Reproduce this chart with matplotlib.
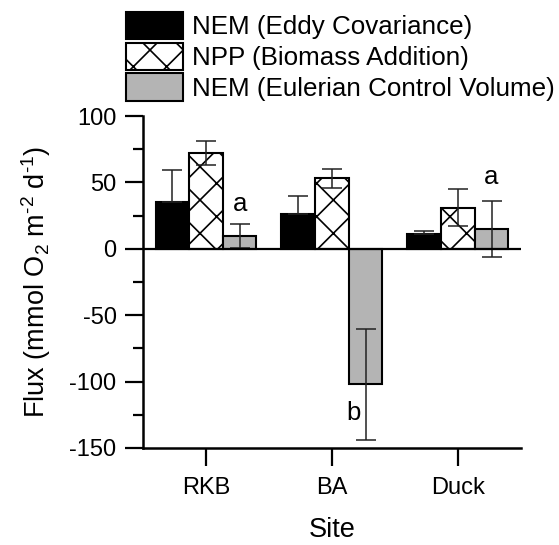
import numpy as np
import matplotlib.pyplot as plt

plt.rcParams['font.family'] = ['Liberation Sans', 'DejaVu Sans']
plt.rcParams['mathtext.default'] = 'regular'
plt.rcParams['axes.unicode_minus'] = False
plt.rcParams['hatch.linewidth'] = 1.2

# data
sites = ['RKB', 'BA', 'Duck']
nem_ec = [35.5, 26, 11.5]
nem_ec_err = [24, 14, 2]
npp = [72, 53, 31]
npp_err = [9, 7, 14]
nem_ecv = [10, -102, 15]
nem_ecv_err = [9, 42, 21]

# significance letters (bar offset from site, y)
letters = ['a', 'b', 'a']
letter_x = [0.267, 0.17, 0.267]
letter_y = [34, -124, 54]

fig = plt.figure(figsize=(5.59, 5.45), dpi=100)
ax = fig.add_axes([0.2558, 0.178, 0.676, 0.609])

x = np.arange(1, len(sites) + 1)
w = 0.267
ekw = dict(ecolor='#222222', elinewidth=1.1, capsize=7, capthick=1.1)

# black bars only show the upper half of the error bar
ax.bar(x - w, nem_ec, w, yerr=[np.zeros(3), nem_ec_err], color='black',
       edgecolor='black', linewidth=1.5, error_kw=ekw,
       label='NEM (Eddy Covariance)')
ax.bar(x, npp, w, yerr=npp_err, color='white', edgecolor='black', hatch='x',
       linewidth=1.5, error_kw=ekw, label='NPP (Biomass Addition)')
ax.bar(x + w, nem_ecv, w, yerr=nem_ecv_err, color='#b4b4b4', edgecolor='black',
       linewidth=1.5, error_kw=ekw, label='NEM (Eulerian Control Volume)')

ax.axhline(0, color='black', linewidth=1.6, zorder=3)

for i in range(len(letters)):
    ax.text(x[i] + letter_x[i], letter_y[i], letters[i], ha='center', va='center',
            fontsize=18.5)

ax.set_xlim(0.5, 3.5)
ax.set_ylim(-150, 100)
ax.set_xticks(x)
ax.set_xticklabels(sites)
ax.set_yticks([-150, -100, -50, 0, 50, 100])
ax.set_yticks(np.arange(-125, 100, 50), minor=True)

for s in ['top', 'right']:
    ax.spines[s].set_visible(False)
for s in ['left', 'bottom']:
    ax.spines[s].set_linewidth(1.8)

ax.tick_params(axis='both', which='major', length=13, width=1.6, labelsize=17, pad=6)
ax.tick_params(axis='x', which='major', pad=8)
ax.tick_params(axis='y', which='minor', length=7.5, width=1.6)

ax.set_xlabel('Site', fontsize=19.5, labelpad=13)
ax.set_ylabel('Flux (mmol O$_2$ m$^{\u20102}$ d$^{\u20101}$)',
              fontsize=19.5, labelpad=12)

ax.legend(loc='upper left', bbox_to_anchor=(126 / 559, 1 - 12 / 545),
          bbox_transform=fig.transFigure, frameon=False, fontsize=18.7,
          handlelength=2.2, handleheight=1.25, labelspacing=0.12,
          handletextpad=0.35, borderpad=0, borderaxespad=0)

fig.savefig('out.png', dpi=100)
